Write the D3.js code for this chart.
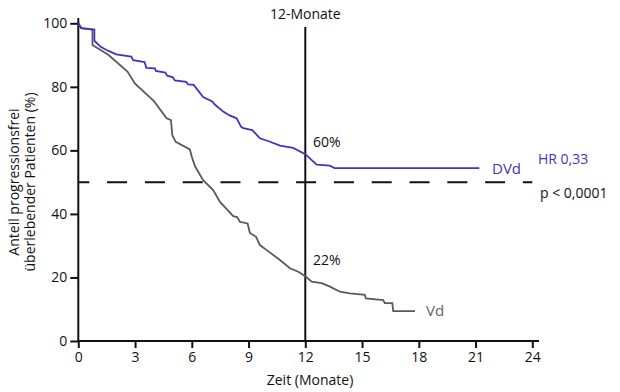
<!DOCTYPE html>
<html><head><meta charset="utf-8">
<script src="https://cdn.jsdelivr.net/npm/d3@7/dist/d3.min.js"></script>
<style>
html,body{margin:0;padding:0;background:#fff;}
svg{display:block;font-family:"Open Sans",sans-serif;}
</style></head>
<body><svg id="c" width="620" height="392"></svg>
<script>
const xTicks = [0,3,6,9,12,15,18,21,24];
const yTicks = [0,20,40,60,80,100];
const dvdTime = [0,0.15,0.85,0.85,1.2,1.6,2.0,2.8,2.9,3.5,3.6,4.05,4.1,4.6,4.7,5.0,5.1,5.7,5.8,6.1,6.6,7.1,7.2,7.66,8.0,8.37,8.6,8.72,9.2,9.6,10.1,10.66,11.36,12.0,12.6,13.3,13.55,21.2];
const dvdSurv = [100,98.5,98,94.5,92.5,91.3,90.2,89.5,88.4,87.8,86,85.8,85,84.5,83.5,83,82,81.6,80.8,80.6,76.8,75.3,74.5,72.2,71,70.1,67.5,67,66.4,63.8,62.8,61.5,60.8,58.8,55.5,55.2,54.4,54.4];
const vdTime = [0,0.15,0.75,0.75,1.6,2.6,3.0,4.0,4.67,4.9,4.97,5.15,5.9,6.0,6.17,6.6,7.13,7.49,8.19,8.4,8.55,8.95,9.07,9.4,9.6,9.96,10.66,11.19,11.63,12.0,12.34,12.86,13.3,13.83,14.36,15.15,15.2,16.12,16.2,16.6,16.65,17.8];
const vdSurv = [100,98.5,98,93.2,90,84.8,81,75.5,70.1,69.5,64.8,62.7,60.3,58,55,50.6,47.5,43.8,39.3,39,37.5,37,34,32.8,30.2,28.6,25.5,22.9,21.8,20.4,18.7,18.2,17.1,15.5,15,14.5,13.4,12.9,11.9,11.9,9.4,9.4];
const landmarkMonth = 12;
const medianLine = 50;

const purple = "#4b2fc4", gray = "#5a5a5a";
const svg = d3.select("#c");
const x = d3.scaleLinear().domain([0,24]).range([78.3,532.3]);
const y = d3.scaleLinear().domain([0,100]).range([341,23.3]);

// axes
const xAxis = svg.append("g").attr("transform","translate(0,341)")
  .call(d3.axisBottom(x).tickValues(xTicks).tickSize(7).tickSizeOuter(0).tickPadding(4));
const yAxis = svg.append("g").attr("transform","translate(78.3,0)")
  .call(d3.axisLeft(y).tickValues(yTicks).tickSize(8).tickSizeOuter(0).tickPadding(3));
[xAxis,yAxis].forEach(g=>{
  g.select(".domain").remove();
  g.selectAll("line").attr("stroke","#111").attr("stroke-width",2);
  g.selectAll("text").attr("font-size",14).attr("fill","#111").attr("font-family","Open Sans, sans-serif");
});
svg.append("line").attr("x1",77.3).attr("x2",539).attr("y1",341).attr("y2",341).attr("stroke","#111").attr("stroke-width",2);
svg.append("line").attr("x1",78.3).attr("x2",78.3).attr("y1",18).attr("y2",342).attr("stroke","#111").attr("stroke-width",2);

// dashed line at 50%
svg.append("line").attr("x1",x(0)).attr("x2",x(24)).attr("y1",y(medianLine)).attr("y2",y(medianLine))
  .attr("stroke","#111").attr("stroke-width",2).attr("stroke-dasharray","20,17.8").attr("stroke-dashoffset",9);
// 12 month line
svg.append("line").attr("x1",x(landmarkMonth)).attr("x2",x(landmarkMonth)).attr("y1",27).attr("y2",341)
  .attr("stroke","#111").attr("stroke-width",2);

const line = d3.line().x(d=>x(d[0])).y(d=>y(d[1]));
svg.append("path").datum(d3.zip(vdTime,vdSurv)).attr("d",line).attr("fill","none").attr("stroke",gray).attr("stroke-width",1.8);
svg.append("path").datum(d3.zip(dvdTime,dvdSurv)).attr("d",line).attr("fill","none").attr("stroke",purple).attr("stroke-width",1.8);

function txt(s,xx,yy,opt={}){
  return svg.append("text").attr("x",xx).attr("y",yy).text(s)
    .attr("font-size",opt.size||14).attr("fill",opt.fill||"#111")
    .attr("text-anchor",opt.anchor||"start");
}
txt("12-Monate",x(landmarkMonth),19,{anchor:"middle",size:14});
txt("60%",313,147);
txt("22%",313,265);
txt("DVd",492,174,{fill:purple,size:15});
txt("HR 0,33",538,164,{fill:purple});
txt("p < 0,0001",540,198);
txt("Vd",426,316,{fill:"#666",size:15});
txt("Zeit (Monate)",310,385,{anchor:"middle"});
svg.append("text").attr("transform","translate(19,182) rotate(-90)").attr("text-anchor","middle")
  .attr("font-size",14).attr("fill","#111").text("Anteil progressionsfrei");
svg.append("text").attr("transform","translate(35,182) rotate(-90)").attr("text-anchor","middle")
  .attr("font-size",14).attr("fill","#111").text("überlebender Patienten (%)");
</script></body></html>
